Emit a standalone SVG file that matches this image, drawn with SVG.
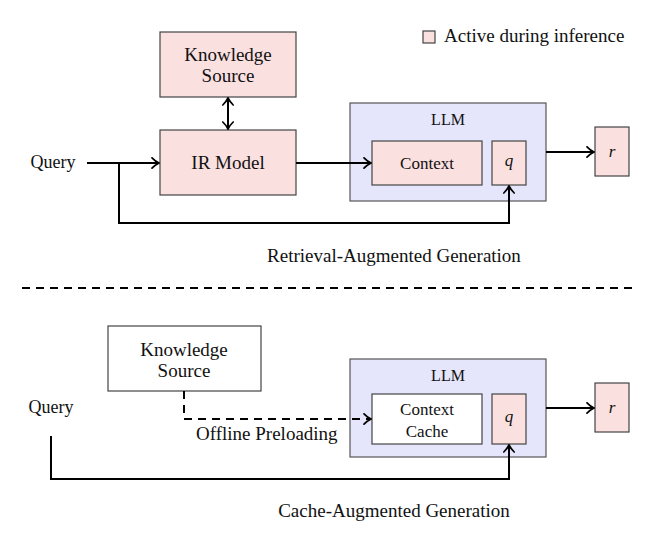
<svg xmlns="http://www.w3.org/2000/svg" width="662" height="550" viewBox="0 0 662 550">
<style>
text{font-family:"Liberation Serif","DejaVu Serif",serif;font-size:19px;fill:#111}
.pink{fill:#fbe0e0;stroke:#444;stroke-width:1.2}
.white{fill:#ffffff;stroke:#444;stroke-width:1.2}
.llm{fill:#e5e5fb;stroke:#555;stroke-width:1.2}
.c{stroke:#000;stroke-width:2;fill:none}
.d{stroke:#000;stroke-width:2;fill:none;stroke-dasharray:8,6}
.m{text-anchor:middle}
.s{font-size:17px}
.q{font-size:18px}
.l{font-size:16px}
.v{font-style:italic;font-size:17px}
</style>
<defs>
<marker id="ah" viewBox="0 0 10 12" refX="9" refY="6" markerWidth="10" markerHeight="12" orient="auto-start-reverse" markerUnits="userSpaceOnUse">
<path d="M2,0.8 Q5,4 9,6 Q5,8 2,11.2" fill="none" stroke="#000" stroke-width="1.7" stroke-linecap="round"/>
</marker>
</defs>
<rect width="662" height="550" fill="#fff"/>

<g id="legend">
<rect x="423" y="31" width="12" height="12" class="pink"/>
<text x="444" y="42">Active during inference</text>
</g>

<g id="rag-knowledge">
<rect x="160" y="32" width="136" height="65" class="pink"/>
<text x="228" y="61" class="m">Knowledge</text>
<text x="228" y="82" class="m">Source</text>
</g>
<g id="rag-ir">
<rect x="160" y="130" width="136" height="65" class="pink"/>
<text x="228" y="169" class="m">IR Model</text>
</g>
<g id="rag-query">
<text x="53" y="168" class="m q">Query</text>
</g>
<g id="rag-llm">
<rect x="350" y="103" width="196" height="98" class="llm"/>
<text x="448" y="125" class="m l">LLM</text>
<rect x="372" y="141" width="110" height="44" class="pink"/>
<text x="427" y="169" class="m s">Context</text>
<rect x="492" y="141" width="34" height="44" class="pink"/>
<text x="509" y="166" class="m v">q</text>
</g>
<g id="rag-r">
<rect x="595" y="127" width="34" height="49" class="pink"/>
<text x="612" y="157" class="m v">r</text>
</g>
<text x="394" y="262" class="m">Retrieval-Augmented Generation</text>

<line x1="22" y1="288" x2="638" y2="288" class="d"/>

<g id="cag-knowledge">
<rect x="108" y="326" width="153" height="65" class="white"/>
<text x="184" y="356" class="m">Knowledge</text>
<text x="184" y="377" class="m">Source</text>
</g>
<g id="cag-query">
<text x="51" y="413" class="m q">Query</text>
</g>
<g id="cag-llm">
<rect x="350" y="359" width="196" height="98" class="llm"/>
<text x="448" y="381" class="m l">LLM</text>
<rect x="372" y="394" width="110" height="50" class="white"/>
<text x="427" y="415" class="m s">Context</text>
<text x="427" y="437" class="m s">Cache</text>
<rect x="492" y="394" width="34" height="50" class="pink"/>
<text x="509" y="422" class="m v">q</text>
</g>
<g id="cag-r">
<rect x="595" y="383" width="34" height="49" class="pink"/>
<text x="612" y="413" class="m v">r</text>
</g>
<text x="196" y="440">Offline Preloading</text>
<text x="394" y="517" class="m">Cache-Augmented Generation</text>

<g id="connectors">
<line x1="228" y1="98" x2="228" y2="129" class="c" marker-start="url(#ah)" marker-end="url(#ah)"/>
<line x1="87" y1="163" x2="159" y2="163" class="c" marker-end="url(#ah)"/>
<polyline points="119,163 119,223 509,223 509,186" class="c" marker-end="url(#ah)"/>
<line x1="296" y1="163" x2="371" y2="163" class="c" marker-end="url(#ah)"/>
<line x1="546" y1="152" x2="594" y2="152" class="c" marker-end="url(#ah)"/>
<polyline points="184,391 184,419 371,419" class="d" marker-end="url(#ah)"/>
<polyline points="51,436 51,479 509,479 509,445" class="c" marker-end="url(#ah)"/>
<line x1="546" y1="408" x2="594" y2="408" class="c" marker-end="url(#ah)"/>
</g>
</svg>
